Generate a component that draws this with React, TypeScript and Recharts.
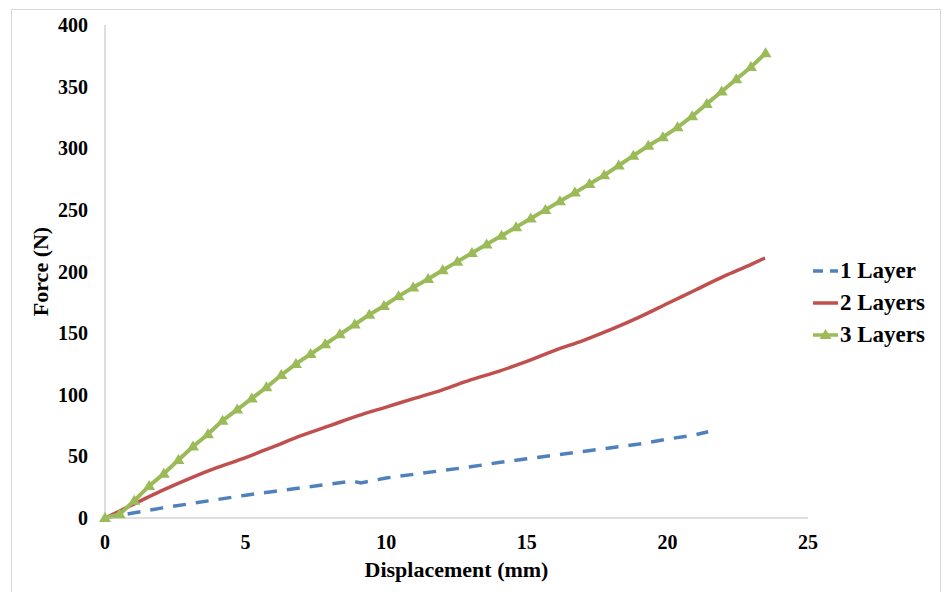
import { LineChart, Line, XAxis, YAxis, Legend } from "recharts";

// displacement (mm) / force (N)
const layer1X = [0, 1, 2, 3, 4, 5, 6, 7, 8, 8.8, 9.1, 10, 11, 12, 13, 14, 15, 16, 17, 18, 19, 20, 21, 21.45];
const layer1Y = [0, 4, 8, 11.5, 15, 18.5, 21.5, 24.5, 27.5, 30, 28.5, 32.5, 35.5, 38.5, 41.5, 45, 48, 51, 54, 57, 60, 64, 67.5, 70];

const layer2X = [0, 1, 2, 3, 4, 5, 6, 7, 8, 9, 10, 11, 12, 13, 14, 15, 16, 17, 18, 19, 20, 21, 22, 23, 23.47];
const layer2Y = [0, 11, 22, 32, 41, 49, 58, 67, 75, 83, 90, 97, 104, 112, 119, 127, 136, 144, 153, 163, 174, 185, 196, 206, 211];

const layer3X = [
  0, 0.52, 1.04, 1.57, 2.09, 2.61, 3.13, 3.66, 4.18, 4.7, 5.22, 5.74, 6.27, 6.79, 7.31, 7.83,
  8.35, 8.88, 9.4, 9.92, 10.44, 10.96, 11.49, 12.01, 12.53, 13.05, 13.57, 14.1, 14.62, 15.14,
  15.66, 16.18, 16.71, 17.23, 17.75, 18.27, 18.79, 19.32, 19.84, 20.36, 20.88, 21.4, 21.93,
  22.45, 22.97, 23.49,
];
const layer3Y = [
  0, 3, 14, 26, 36, 47, 58, 68, 79, 88, 97, 106, 116, 125, 133, 141,
  149, 157, 165, 172, 180, 187, 194, 201, 208, 215, 222, 229, 236, 243,
  250, 257, 264, 271, 278, 286, 294, 302, 309, 317, 326, 336, 346,
  356, 366, 377,
];

const xTicks = [0, 5, 10, 15, 20, 25];
const yTicks = [0, 50, 100, 150, 200, 250, 300, 350, 400];

const seriesNames = ["1 Layer", "2 Layers", "3 Layers"];
const seriesColors = ["#4F81BD", "#C0504D", "#9BBB59"];

const zip = (xs: number[], ys: number[]) => xs.map((x, i) => ({ x, y: ys[i] }));

const FONT = "'Liberation Serif', 'Times New Roman', serif";

const tickStyle = { fill: "#000", fontSize: 20, fontWeight: 700, fontFamily: FONT };

function renderTriangle(props: any) {
  const { cx, cy, index } = props;
  if (cx == null || cy == null) return <g key={`t-${index}`} />;
  return (
    <path
      key={`t-${index}`}
      d={`M${cx},${cy - 6} L${cx + 6},${cy + 4} L${cx - 6},${cy + 4} Z`}
      fill={seriesColors[2]}
      stroke="none"
    />
  );
}

function XTitle(props: any) {
  const { viewBox } = props;
  return (
    <text
      x={viewBox.x + viewBox.width / 2}
      y={viewBox.y + viewBox.height - 15}
      textAnchor="middle"
      fontSize={22}
      fontWeight={700}
      fontFamily={FONT}
      fill="#000"
    >
      Displacement (mm)
    </text>
  );
}

function YTitle(props: any) {
  const { viewBox } = props;
  const cy = viewBox.y + viewBox.height / 2;
  return (
    <text
      x={48}
      y={cy}
      transform={`rotate(-90 48 ${cy})`}
      textAnchor="middle"
      fontSize={22}
      fontWeight={700}
      fontFamily={FONT}
      fill="#000"
    >
      Force (N)
    </text>
  );
}

function LegendBox() {
  return (
    <div style={{ fontFamily: FONT, fontWeight: 700, fontSize: 23, color: "#000" }}>
      {seriesNames.map((name, i) => (
        <div key={name} style={{ display: "flex", alignItems: "center", height: 32 }}>
          <svg width={25} height={14}>
            <line
              x1={0}
              y1={7}
              x2={25}
              y2={7}
              stroke={seriesColors[i]}
              strokeWidth={3.5}
              strokeDasharray={i === 0 ? "10 7" : undefined}
            />
            {i === 2 && <path d="M12.5,1 L18.5,11 L6.5,11 Z" fill={seriesColors[2]} />}
          </svg>
          <span style={{ marginLeft: 2, lineHeight: "32px" }}>{name}</span>
        </div>
      ))}
    </div>
  );
}

export default function App() {
  return (
    <div
      style={{
        position: "absolute",
        left: 0,
        top: 0,
        width: 946,
        height: 592,
        overflow: "hidden",
        background: "#fff",
      }}
    >
      <div
        style={{
          position: "absolute",
          left: 11,
          top: 9,
          width: 928,
          height: 620,
          border: "1px solid #D9D9D9",
        }}
      />
      <LineChart
        width={946}
        height={592}
        margin={{ top: 25, right: 138, bottom: 0, left: 0 }}
        style={{ position: "absolute", left: 0, top: 0, fontFamily: FONT }}
      >
        <XAxis
          type="number"
          dataKey="x"
          domain={[0, 25]}
          ticks={xTicks}
          height={74}
          tickLine={false}
          tickSize={0}
          tickMargin={17}
          axisLine={{ stroke: "#BFBFBF", strokeWidth: 1 }}
          tick={tickStyle}
          label={{ content: XTitle }}
        />
        <YAxis
          type="number"
          dataKey="y"
          domain={[0, 400]}
          ticks={yTicks}
          width={105}
          tickLine={false}
          tickSize={0}
          tickMargin={17}
          axisLine={{ stroke: "#BFBFBF", strokeWidth: 1 }}
          tick={tickStyle}
          label={{ content: YTitle }}
        />
        <Legend
          layout="vertical"
          align="center"
          verticalAlign="middle"
          content={<LegendBox />}
          wrapperStyle={{ left: 813, top: 255, width: 133 }}
        />
        <Line
          data={zip(layer1X, layer1Y)}
          dataKey="y"
          name={seriesNames[0]}
          type="linear"
          stroke={seriesColors[0]}
          strokeWidth={3.5}
          strokeDasharray="13 10"
          dot={false}
          activeDot={false}
          isAnimationActive={false}
        />
        <Line
          data={zip(layer2X, layer2Y)}
          dataKey="y"
          name={seriesNames[1]}
          type="monotone"
          stroke={seriesColors[1]}
          strokeWidth={3.5}
          dot={false}
          activeDot={false}
          isAnimationActive={false}
        />
        <Line
          data={zip(layer3X, layer3Y)}
          dataKey="y"
          name={seriesNames[2]}
          type="linear"
          stroke={seriesColors[2]}
          strokeWidth={4}
          dot={renderTriangle}
          activeDot={false}
          isAnimationActive={false}
        />
      </LineChart>
    </div>
  );
}
